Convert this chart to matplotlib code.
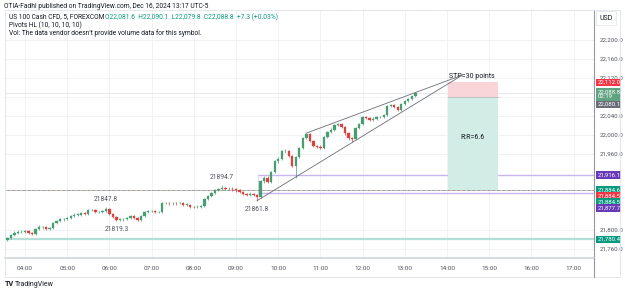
import matplotlib
matplotlib.use("Agg")
import matplotlib.pyplot as plt
import numpy as np

plt.rcParams['font.family'] = ['Roboto', 'DejaVu Sans']

# ---------------- data ----------------
first_open = 21780.0
closes = [21783, 21790, 21794, 21796, 21796, 21798, 21794, 21792, 21802, 21806,
          21806, 21802, 21804, 21815, 21819, 21823, 21823, 21825, 21830, 21832,
          21832, 21836, 21834, 21842, 21842, 21838, 21838, 21840, 21844, 21834,
          21827, 21821, 21823, 21823, 21825, 21830, 21825, 21821, 21830, 21838,
          21840, 21840, 21838, 21838, 21857, 21857, 21856, 21857, 21856, 21857,
          21853, 21853, 21849, 21848, 21849, 21851, 21865, 21872, 21878, 21884,
          21886, 21888, 21886, 21887, 21886, 21884, 21880, 21876, 21874, 21876,
          21874, 21869, 21903, 21910, 21901, 21922, 21945, 21950, 21966, 21966,
          21956, 21935, 21954, 21973, 21994, 22002, 21987, 21977, 21975, 21973,
          21996, 22006, 22011, 22021, 22023, 22017, 22004, 21993, 21991, 22015,
          22023, 22038, 22036, 22032, 22034, 22038, 22038, 22042, 22061, 22063,
          22059, 22053, 22065, 22072, 22076, 22081.6, 22088.8]
highs = [21786, 21792, 21797, 21799, 21799, 21801, 21800, 21796, 21804, 21810,
         21809, 21808, 21807, 21817, 21822, 21826, 21826, 21828, 21832, 21835,
         21835, 21838, 21838, 21844, 21845, 21844, 21841, 21843, 21847.8, 21846,
         21836, 21829, 21826, 21826, 21828, 21832, 21831, 21827, 21832, 21840,
         21843, 21843, 21842, 21841, 21859, 21860, 21860, 21860, 21859, 21860,
         21858, 21856, 21855, 21851, 21852, 21853, 21867, 21874, 21880, 21886,
         21889, 21894.7, 21891, 21890, 21890, 21888, 21886, 21882, 21878, 21879,
         21878, 21876, 21906, 21914, 21913, 21925, 21948, 21953, 21969, 21970,
         21968, 21958, 21956, 21975, 21996, 22004, 22004, 21989, 21979, 21978,
         21998, 22008, 22014, 22023, 22026, 22025, 22019, 22006, 21996, 22017,
         22025, 22040, 22040, 22038, 22037, 22040, 22041, 22045, 22063, 22066,
         22065, 22061, 22067, 22074, 22078, 22083, 22090.1]
lows = [21777, 21781, 21788, 21792, 21793, 21794, 21791, 21789, 21790, 21800,
        21803, 21800, 21800, 21802, 21813, 21817, 21820, 21821, 21823, 21828,
        21829, 21830, 21832, 21832, 21839, 21836, 21835, 21836, 21838, 21832,
        21825, 21819.3, 21820, 21820, 21821, 21823, 21823, 21820, 21820, 21828,
        21836, 21837, 21835, 21835, 21836, 21854, 21853, 21853, 21853, 21854,
        21851, 21850, 21847, 21846, 21846, 21847, 21849, 21863, 21870, 21876,
        21882, 21884, 21884, 21884, 21883, 21881, 21878, 21874, 21871, 21872,
        21871, 21861.8, 21867, 21900, 21898, 21899, 21920, 21942, 21948, 21962,
        21953, 21932, 21910, 21951, 21970, 21991, 21985, 21974, 21972, 21970,
        21971, 21994, 22004, 22009, 22019, 22015, 22001, 21990, 21985, 21989,
        22013, 22021, 22034, 22030, 22030, 22032, 22035, 22036, 22040, 22059,
        22057, 22051, 22051, 22063, 22070, 22074, 22079.8]
opens = [first_open] + closes[:-1]

start_hour = 3 + 35 / 60          # first bar 03:35
bar_minutes = 5
times = [start_hour + i * bar_minutes / 60 for i in range(len(closes))]

price_ticks = [22200, 22160, 22120, 22040, 22000, 21960, 21800, 21760]
hour_ticks = list(range(4, 18))
hour_labels = [f"{h:02d}:00" for h in hour_ticks]

pivots_high = [(28, 21847.8), (61, 21894.7)]
pivots_low = [(31, 21819.3), (71, 21861.8)]

teal_level = 21780.4
box_top, box_bot = 21916.1, 21877.7
dotted_level = 21884.5
entry, stop, target = 22080.1, 22112.0, 21884.6
wedge_upper = [(85, 22004.0), (14.36, 22126.0)]
wedge_lower = [(71, 21861.8), (14.36, 22126.0)]

axis_labels = [  # (price where the label box sits, text, colour)
    (22111.0, "22,112.0", "#f23645"),
    (22085.3, "22,088.8\n02:19", "#5fa383"),
    (22064.0, "22,080.1", "#6a6d78"),
    (21916.1, "21,916.1", "#673ab7"),
    (21884.2, "21,884.6", "#089981"),
    (21871.6, "21,884.5", "#f23645"),
    (21859.0, "21,884.5", "#089981"),
    (21846.4, "21,877.7", "#673ab7"),
    (21780.4, "21,780.4", "#089981"),
]

UP = "#4a9c72"
DOWN = "#d9433f"
GRID = "#eef0f5"
TXT = "#50535e"

# ---------------- figure ----------------
W, H = 625, 291
fig = plt.figure(figsize=(W / 100, H / 100), dpi=100)
fig.patch.set_facecolor("white")

def px(x0, y0, x1, y1):
    return [x0 / W, 1 - y1 / H, (x1 - x0) / W, (y1 - y0) / H]

ax = fig.add_axes(px(5, 10, 594, 258))
xlim = (4 + (5 - 25) / 42.2, 4 + (594 - 25) / 42.2)
ylim = (22284.2 - 2.105 * 258, 22284.2 - 2.105 * 10)
ax.set_xlim(*xlim)
ax.set_ylim(*ylim)

# grid
for h in hour_ticks:
    ax.axvline(h, color=GRID, lw=0.6, zorder=0)
for p in price_ticks + [22080]:
    ax.axhline(p, color=GRID, lw=0.6, zorder=0)

# levels
ax.axhline(teal_level, color="#b2e0d8", lw=1.6, zorder=1)
t_box = times[71] + 0.03
ax.plot([t_box, xlim[1]], [box_top, box_top], color="#c7b6ee", lw=1.0, zorder=1)
ax.plot([t_box, xlim[1]], [box_bot, box_bot], color="#c7b6ee", lw=1.0, zorder=1)
ax.plot([t_box, t_box], [box_bot, box_top], color="#ddd2f6", lw=0.6, zorder=1)
ax.axhline(dotted_level + 0.8, color="#f23645", lw=0.6, ls=(0, (1, 2)), zorder=1)
ax.axhline(dotted_level - 0.8, color="#089981", lw=0.6, ls=(1.5, (1, 2)), zorder=1)
ax.axhline(closes[-1], color="#dfe2e8", lw=0.5, zorder=1)

# position tool
x0z, x1z = 14.02, 15.21
ax.fill_between([x0z, x1z], entry, stop, color="#f9d4d8", zorder=1, lw=0)
ax.fill_between([x0z, x1z], target, entry, color="#d2ece6", zorder=1, lw=0)
ax.plot([x0z, x1z], [entry, entry], color="#b0b3bb", lw=0.5, zorder=1)
ax.text(x0z + 0.02, stop + 4, "STP=30 points", fontsize=5.0, color="#131722",
        ha="left", va="bottom", zorder=5)
ax.text((x0z + x1z) / 2, 21995, "R:R=6.6", fontsize=5.0, color="#131722",
        ha="center", va="center", zorder=5)

# candles
o = np.array(opens); c = np.array(closes)
hi = np.array(highs); lo = np.array(lows); t = np.array(times)
cols = [UP if ci >= oi else DOWN for oi, ci in zip(o, c)]
ax.vlines(t, lo, hi, colors=cols, lw=0.5, zorder=3)
body_h = np.maximum(np.abs(c - o), 0.8)
ax.bar(t, body_h, bottom=np.minimum(o, c), width=0.056, color=cols,
       edgecolor=cols, lw=0.2, zorder=4)

# wedge
def tx(v):
    return times[v] if isinstance(v, int) else v
for line in (wedge_upper, wedge_lower):
    ax.plot([tx(line[0][0]), tx(line[1][0])], [line[0][1], line[1][1]],
            color="#6b6e78", lw=0.6, zorder=5)

# pivots
for i, p in pivots_high:
    ax.annotate(f"{p}", (times[i], p), xytext=(0, 3), textcoords="offset points",
                fontsize=4.8, color=TXT, ha="center", va="bottom", zorder=6)
for i, p in pivots_low:
    ax.annotate(f"{p}", (times[i], p), xytext=(0, -4), textcoords="offset points",
                fontsize=4.8, color=TXT, ha="center", va="top", zorder=6)

# axes styling
for s in ("top", "left"):
    ax.spines[s].set_visible(False)
ax.spines["right"].set_color("#9598a1")
ax.spines["right"].set_linewidth(0.8)
ax.spines["bottom"].set_color("#d1d4dc")
ax.spines["bottom"].set_linewidth(1.2)
ax.set_xticks(hour_ticks)
ax.set_xticklabels(hour_labels, fontsize=4.6, color=TXT)
ax.tick_params(axis="x", length=0, pad=6)
ax.yaxis.tick_right()
ax.set_yticks(price_ticks)
ax.set_yticklabels([f"{p:,.1f}" for p in price_ticks], fontsize=4.4, color=TXT)
ax.tick_params(axis="y", length=0, pad=4)

# axis price labels
for p, txt, bg in axis_labels:
    ax.text(1.0055, p, txt, transform=ax.get_yaxis_transform(), fontsize=4.3,
            color="white", ha="left", va="center", linespacing=1.0, zorder=10,
            clip_on=False,
            bbox=dict(boxstyle="square,pad=0.2", fc=bg, ec="none"))

# frame
fig.add_artist(plt.Rectangle((5 / W, 1 - 277 / H), 615 / W, 267 / H,
                             transform=fig.transFigure, fill=False,
                             ec="#e0e3eb", lw=0.6))
fig.add_artist(plt.Line2D([594 / W, 594 / W], [1 - 277 / H, 1 - 258 / H],
                          transform=fig.transFigure, color="#9598a1", lw=0.8))

# header texts
fig.text(4 / W, 1 - 6 / H, "OTIA-Fadhl published on TradingView.com, Dec 16, 2024 13:17 UTC-5",
         fontsize=4.8, color="#131722", va="center")
fig.text(9 / W, 1 - 17 / H, "US 100 Cash CFD, 5, FOREXCOM", fontsize=4.8,
         color="#131722", va="center")
fig.text(105 / W, 1 - 17 / H,
         "O22,081.6  H22,090.1  L22,079.8  C22,088.8  +7.3 (+0.03%)",
         fontsize=4.8, color="#089981", va="center")
fig.text(9 / W, 1 - 25 / H, "Pivots HL (10, 10, 10, 10)", fontsize=4.8,
         color="#131722", va="center")
fig.text(9 / W, 1 - 33 / H,
         "Vol: The data vendor doesn't provide volume data for this symbol.",
         fontsize=4.8, color="#131722", va="center")
fig.text(599 / W, 1 - 18 / H, "USD", fontsize=5.0, color="#131722", va="center",
         bbox=dict(boxstyle="square,pad=0.45", fc="white", ec="#e0e3eb", lw=0.5))
fig.text(5 / W, 1 - 284 / H, "TV", fontsize=5.2, color="#131722", va="center",
         fontweight="bold")
fig.text(15 / W, 1 - 284 / H, "TradingView", fontsize=5.0, color="#131722",
         va="center")

fig.savefig("out.png", dpi=100, facecolor="white")
